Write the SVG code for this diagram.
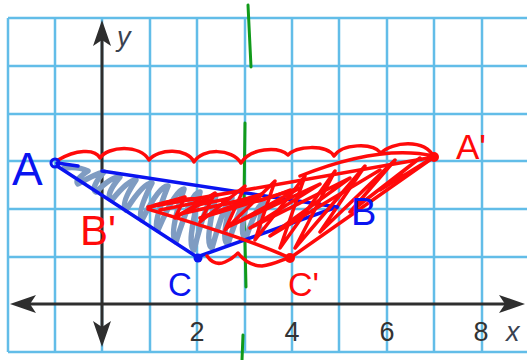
<svg xmlns="http://www.w3.org/2000/svg" width="527" height="360" viewBox="0 0 527 360">
<style>
.grid{stroke:#62bde8;stroke-width:2.5;fill:none}
.axis{stroke:#2e2e2e;stroke-width:3;fill:none}
.head{fill:#2e2e2e}
.num{font-family:"Liberation Sans",Arial,sans-serif;font-size:27px;fill:#333}
.var{font-family:"Liberation Sans",Arial,sans-serif;font-size:27px;font-style:italic;fill:#3a4250}
.blue{stroke:#0a14f0;stroke-width:3.5;fill:none;stroke-linecap:round;stroke-linejoin:round}
.red{stroke:#ff0a0a;stroke-width:3.5;fill:none;stroke-linecap:round;stroke-linejoin:round}
.gray{stroke:#7f9cc2;stroke-width:5.5;fill:none;stroke-linecap:round;stroke-linejoin:round}
.green{stroke:#119a1a;stroke-width:3;fill:none;stroke-linecap:round}
.lb{font-family:"Liberation Sans",Arial,sans-serif;fill:#0a14f0}
.lr{font-family:"Liberation Sans",Arial,sans-serif;fill:#ff0a0a}
</style>
<rect width="527" height="360" fill="#fff"/>
<g id="grid">
<path class="grid" d="M8 18V352M55 18V352M102 18V352M150 18V352M197 18V352M245 18V352M292 18V352M339 18V352M387 18V352M434 18V352M482 18V352M8 18H527M8 66H527M8 114H527M8 161H527M8 209H527M8 257H527M8 352H527"/>
</g>
<g id="axes">
<line class="axis" x1="28" y1="304" x2="505" y2="304"/>
<line class="axis" x1="102" y1="40" x2="102" y2="328"/>
<polygon class="head" points="10,304 36,295 30,304 36,313"/>
<polygon class="head" points="525,304 499,295 505,304 499,313"/>
<polygon class="head" points="102,20 93,46 102,40 111,46"/>
<polygon class="head" points="102,347 93,321 102,327 111,321"/>
<text class="num" x="197" y="341" text-anchor="middle">2</text>
<text class="num" x="292" y="341" text-anchor="middle">4</text>
<text class="num" x="387" y="341" text-anchor="middle">6</text>
<text class="num" x="481" y="341" text-anchor="middle">8</text>
<text class="var" x="506" y="341">x</text>
<text class="var" x="117" y="46">y</text>
</g>
<g id="mirror-line">
<path class="green" d="M248 5L251 67M245 123L244 200L246 287M243 335L242 360"/>
</g>
<g id="connectors">
<path class="gray" d="M64 168Q78 166 88 171Q74 180 78 184Q95 174 104 172Q90 188 96 192Q112 176 120 177Q104 196 112 200Q128 180 136 180Q120 204 126 210Q144 182 152 183Q136 214 142 220Q160 184 168 186Q152 226 158 230Q176 188 184 189Q168 236 176 242Q192 190 200 192Q186 246 194 250Q208 194 216 195Q204 246 212 248Q226 198 232 198Q220 242 228 244Q242 200 248 200Q238 236 246 238Q258 202 264 203Q256 230 262 230"/>
<path class="blue" d="M57 163L78 166M102 171L337 207M57 166L197 257L337 207"/>
<path class="red" d="M58 160C75 150 95 148 100 158C108 146 140 144 149 160C158 148 188 148 194 162C202 148 232 148 241 163C250 148 278 146 288 155C296 146 326 144 334 156C342 144 372 142 381 153C392 142 424 138 434 157"/>
<path class="red" d="M207 256C212 263 218 265 225 262C232 259 236 255 238 253C245 262 252 266 262 266C272 265 280 261 288 258"/>
<path class="red" d="M148 207L434 157M148 209C200 225 250 240 290 258L434 157M300 176C340 160 390 146 434 156"/>
<path class="red" d="M150 207L185 197L175 218L215 193L200 222L245 186L225 230L275 181L255 240L305 176L280 248L335 171L295 248L365 166L320 232L395 160L350 212L420 158L380 190L434 157"/>
<path class="red" d="M160 210L210 200L180 214L260 196L200 218L300 188L230 226L320 184L250 228L350 178L270 236L380 170"/>
<path class="red" d="M155 205Q190 196 200 200Q178 210 230 198Q205 212 262 194Q240 210 290 190"/>
</g>
<g id="A">
<circle cx="55" cy="163" r="4" fill="none" stroke="#0a14f0" stroke-width="3"/>
<text class="lb" x="12" y="185" font-size="46">A</text>
</g>
<g id="B">
<circle cx="337" cy="207" r="2" fill="#0a14f0"/>
<text class="lb" x="351" y="225" font-size="38">B</text>
</g>
<g id="C">
<circle cx="198" cy="258" r="4.5" fill="#0a14f0"/>
<text class="lb" x="168" y="296" font-size="33">C</text>
</g>
<g id="A-prime">
<circle cx="434" cy="157" r="5" fill="#ff0a0a"/>
<text class="lr" x="456" y="159" font-size="35">A'</text>
</g>
<g id="B-prime">
<text class="lr" x="80" y="245" font-size="42">B'</text>
</g>
<g id="C-prime">
<circle cx="290" cy="258" r="5" fill="#ff0a0a"/>
<text class="lr" x="288" y="296" font-size="34">C'</text>
</g>
</svg>
